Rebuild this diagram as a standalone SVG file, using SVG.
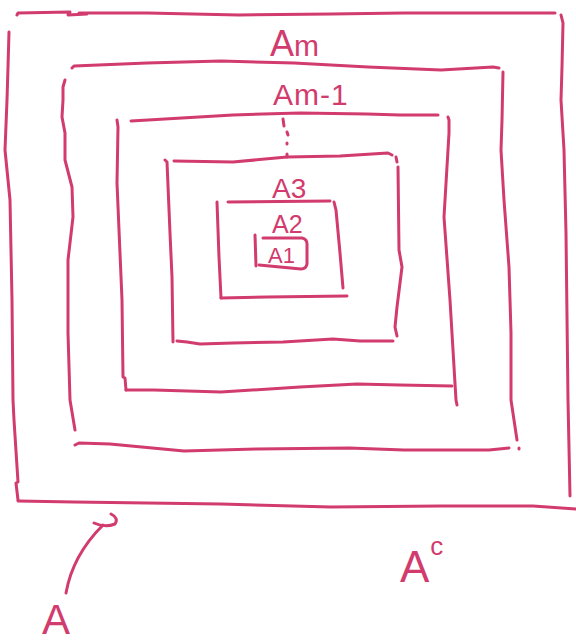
<svg xmlns="http://www.w3.org/2000/svg" width="576" height="643" viewBox="0 0 576 643">
<style>
.s{fill:none;stroke:#d13b6d;stroke-width:3;stroke-linecap:round;stroke-linejoin:round}
.t{fill:#d13b6d;font-family:"Liberation Sans",Arial,sans-serif}
</style>
<rect width="576" height="643" fill="#fff"/>
<g id="set-Am">
<path class="s" d="M17,15 L18,13 L70,12 L69,14 M68,15 L87,14 M79,13 L147,13 L239,15 L331,14 L404,13 L478,13 L555,13"/>
<path class="s" d="M561,15 L563,23 L562,67 L561,100 L564,150 L566,233 L568,400 L570,496"/>
<path class="s" d="M9,32 L8,67 L7,100 L5,150 L10,200 L12,300 L13,400 L14,420 L18,482 L16,483 L18,500"/>
<path class="s" d="M18,501 L74,502 L147,503 L221,504 L331,507 L441,506 L533,506 L576,509"/>
<text class="t" x="270" y="56" font-size="36">A<tspan font-size="30">m</tspan></text>
</g>
<g id="set-Am-1">
<path class="s" d="M72,68 L74,66 L147,63 L221,61 L294,63 L368,67 L441,70 L493,67 L499,68"/>
<path class="s" d="M503,72 L502,120 L501,150 L504,200 L509,267 L511,333 L511,400 L517,440 M519,448 L519,449"/>
<path class="s" d="M65,80 L63,87 L63,100 L62,117 L65,133 L65,160 L72,187 L73,217 L68,260 L68,333 L70,400 L75,430"/>
<path class="s" d="M75,445 L79,443 L110,444 L184,451 L257,449 L349,448 L404,450 L489,450 L509,448"/>
<text class="t" x="273" y="105" font-size="30" letter-spacing="1">Am-1</text>
</g>
<g id="set-dots">
<path class="s" d="M131,121 L233,115 L300,113 L367,114 L400,115 L438,115"/>
<path class="s" d="M448,117 L449,120 L449,133 L444,217 L450,300 L456,400 L457,405"/>
<path class="s" d="M117,120 L118,127 L117,183 L122,300 L123,377 L125,378 L126,390"/>
<path class="s" d="M126,390 L154,390 L221,392 L300,387 L357,384 L400,385 L452,386"/>
<path class="s" d="M283,119 L284,126 M287,132 L288,135 M287,143 L287,144 M287,154 L287,157"/>
</g>
<g id="set-A3">
<path class="s" d="M174,161 L233,162 L287,157 L340,156 L388,153 L392,155"/>
<path class="s" d="M396,157 L397,162 M398,167 L399,250 L402,267 L397,307 L395,327 L397,336"/>
<path class="s" d="M165,160 L167,162 L170,233 L172,277 L173,342"/>
<path class="s" d="M177,341 L187,342 L200,344 L233,343 L283,342 L333,339 L360,341 L393,341"/>
<text class="t" x="272" y="198" font-size="28">A3</text>
</g>
<g id="set-A2">
<path class="s" d="M228,202 L330,201"/>
<path class="s" d="M217,202 L219,257 L221,298"/>
<path class="s" d="M221,298 L267,297 L347,296"/>
<path class="s" d="M334,202 L336,210 L340,253 L343,288"/>
<text class="t" x="272" y="233" font-size="25">A2</text>
</g>
<g id="set-A1">
<path class="s" d="M263,238 L302,238 Q307,239 307,244 L307,264 Q306,269 301,269 L259,265"/>
<path class="s" d="M255,235 L256,266"/>
<text class="t" x="268" y="263" font-size="22">A1</text>
</g>
<g id="label-A">
<text class="t" x="42" y="634" font-size="42">A</text>
</g>
<g id="label-Ac">
<text class="t" x="400" y="582" font-size="44">A<tspan font-size="26" dx="1" dy="-27">c</tspan></text>
</g>
<g id="connectors">
<path class="s" d="M66,593 C70,570 80,548 103,525"/>
<path class="s" d="M94,523 Q105,528 115,524 Q119,518 111,514"/>
</g>
</svg>
